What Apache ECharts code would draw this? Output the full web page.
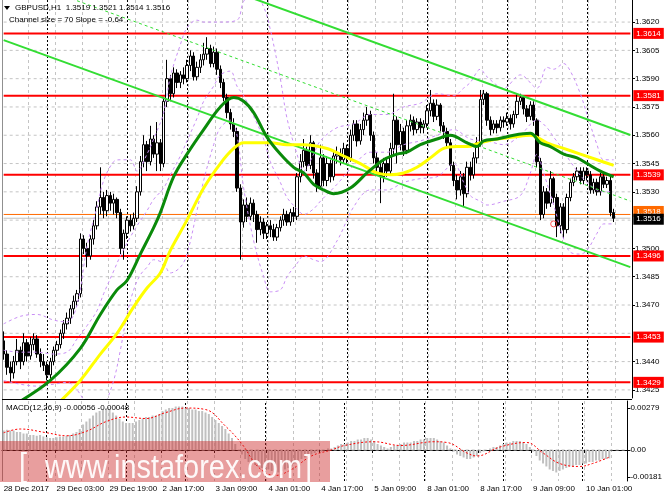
<!DOCTYPE html>
<html><head><meta charset="utf-8">
<script src="https://cdn.jsdelivr.net/npm/echarts@6/dist/echarts.min.js"></script>
<style>html,body{margin:0;padding:0;background:#fff}#c{width:665px;height:499px}</style>
</head><body><div id="c"></div>
<script>
// ---------- DATA ----------
const symbolName = 'GBPUSD,H1';
const channelText = 'Channel size = 70 Slope = -0.64';
const days = [['28 Dec',11,13],['29 Dec',0,24],['2 Jan',6,18],['3 Jan',0,24],['4 Jan',0,24],['5 Jan',0,24],['8 Jan',0,24],['9 Jan',0,24],['10 Jan',0,9]];
const emptySlots = 5;
const xTickLabels = ['28 Dec 2017','29 Dec 03:00','29 Dec 19:00','2 Jan 17:00','3 Jan 09:00','4 Jan 01:00','4 Jan 17:00','5 Jan 09:00','8 Jan 01:00','8 Jan 17:00','9 Jan 09:00','10 Jan 01:00'];
// prices in pips (1.3451 -> 3451)
const firstOpenPips = 3451;
const closesPips = [3444,3437,3434,3440,3446,3440,3450,3443,3449,3452,3444,3440,3438,3433,3440,3446,3449,3455,3460,3463,
3468,3472,3476,3505,3500,3496,3505,3512,3522,3527,3520,3528,3524,3526,3519,3500,3508,3515,3512,3516,
3530,3546,3555,3546,3558,3550,3556,3545,3578,3590,3582,3593,3588,3592,3590,3597,3602,3591,3596,3600,
3603,3606,3598,3604,3595,3588,3580,3572,3566,3562,3532,3514,3523,3517,3524,3518,3510,3514,3508,3512,
3510,3506,3511,3515,3518,3514,3519,3517,3538,3546,3552,3544,3556,3540,3533,3548,3536,3545,3538,3549,
3550,3547,3553,3548,3560,3566,3557,3563,3568,3571,3560,3548,3543,3538,3545,3541,3553,3568,3555,3562,
3552,3565,3568,3563,3567,3564,3566,3573,3577,3570,3576,3565,3562,3556,3544,3536,3531,3538,3529,3543,
3539,3548,3556,3579,3582,3568,3563,3566,3564,3568,3567,3569,3566,3571,3578,3580,3574,3570,3576,3568,
3546,3518,3530,3524,3537,3527,3512,3522,3510,3527,3535,3538,3541,3536,3541,3539,3531,3535,3530,3538,
3534,3536,3519,3516];
const highsPips = [3456,3446,3440,3443,3452,3448,3455,3452,3453,3455,3454,3447,3444,3440,3442,3448,3451,3457,3462,3466,
3470,3475,3478,3508,3507,3503,3507,3515,3525,3543,3530,3531,3530,3529,3527,3521,3510,3517,3518,3519,
3533,3549,3560,3557,3565,3560,3567,3558,3580,3600,3592,3596,3595,3594,3596,3600,3605,3604,3599,3603,
3609,3612,3608,3607,3606,3597,3590,3582,3574,3569,3564,3534,3526,3527,3527,3526,3520,3517,3516,3514,
3515,3513,3513,3517,3521,3520,3521,3522,3540,3550,3558,3554,3560,3557,3542,3555,3550,3549,3547,3552,
3554,3553,3556,3555,3563,3568,3568,3566,3572,3575,3573,3562,3551,3546,3548,3548,3556,3582,3570,3566,
3564,3568,3571,3570,3569,3569,3568,3576,3584,3579,3579,3577,3567,3564,3558,3546,3539,3541,3540,3546,
3546,3551,3559,3584,3584,3583,3570,3568,3568,3570,3570,3572,3571,3573,3582,3582,3581,3576,3578,3578,
3569,3548,3533,3532,3541,3538,3529,3524,3524,3529,3537,3540,3543,3543,3543,3543,3541,3537,3537,3540,
3540,3538,3538,3521];
const lowsPips = [3441,3433,3429,3431,3438,3436,3438,3440,3441,3446,3442,3437,3435,3430,3431,3438,3443,3447,3452,3457,
3460,3465,3469,3474,3497,3490,3494,3502,3510,3518,3516,3517,3520,3518,3516,3497,3494,3505,3509,3510,
3514,3528,3543,3541,3544,3548,3541,3541,3543,3575,3578,3580,3585,3585,3587,3588,3594,3589,3589,3593,
3597,3600,3596,3596,3592,3585,3578,3569,3563,3559,3530,3494,3511,3514,3515,3514,3503,3507,3505,3505,
3506,3504,3504,3509,3512,3512,3512,3514,3515,3535,3543,3541,3542,3537,3530,3531,3533,3533,3535,3536,
3545,3544,3545,3545,3546,3557,3554,3555,3560,3565,3557,3545,3540,3524,3535,3538,3539,3550,3545,3552,
3549,3550,3562,3560,3561,3561,3561,3564,3570,3567,3568,3562,3558,3553,3541,3533,3526,3528,3522,3527,
3536,3537,3545,3554,3576,3565,3560,3561,3561,3562,3564,3565,3563,3564,3569,3576,3571,3567,3568,3565,
3543,3515,3516,3521,3522,3524,3506,3508,3505,3508,3525,3533,3536,3534,3534,3536,3529,3529,3528,3528,
3532,3532,3517,3514];
// moving averages read as [bar, pips]
const maGreen = [[5,3419],[14,3430],[23,3447],[29,3465],[34,3478],[37,3483],[41,3497],[45,3511],[47,3519],[51,3538],[55,3550],[60,3563],[65,3575],[69,3580],[72,3578],[75,3572],[79,3559],[83,3550],[87,3543],[90,3540],[93,3534],[96,3531],[99,3529],[104,3532],[109,3540],[114,3547],[118,3550],[121,3551],[125,3555],[130,3558],[134,3560],[139,3556],[142,3554],[144,3557],[148,3558],[153,3560],[158,3561],[161,3556],[164,3554],[168,3550],[172,3548],[175,3545],[179,3541],[183,3538]];
const maYellow = [[17,3419],[23,3430],[29,3444],[34,3455],[39,3469],[43,3479],[47,3487],[50,3499],[55,3515],[60,3532],[65,3545],[69,3553],[72,3556],[75,3556],[80,3556],[85,3555],[90,3555],[97,3553],[102,3549],[107,3545],[112,3540],[116,3539],[120,3540],[124,3543],[128,3548],[132,3553],[136,3554],[139,3554],[143,3556],[148,3558],[153,3559],[158,3560],[163,3556],[168,3553],[173,3550],[178,3547],[183,3544]];
// Bollinger-style dashed bands read as [bar, pips]
const bandUpper = [[0,3460],[5,3464],[10,3465],[15,3462],[19,3461],[22,3470],[25,3501],[28,3522],[30,3536],[33,3546],[35,3547],[38,3547],[40,3541],[43,3550],[45,3558],[48,3572],[50,3591],[53,3608],[55,3617],[58,3621],[60,3620],[65,3620],[70,3621],[72,3631],[75,3636],[78,3628],[80,3616],[83,3590],[85,3569],[88,3550],[90,3541],[93,3550],[95,3557],[100,3564],[105,3566],[110,3571],[115,3571],[120,3575],[125,3577],[130,3582],[135,3581],[138,3585],[140,3588],[143,3595],[145,3591],[150,3585],[155,3592],[160,3585],[163,3596],[165,3595],[168,3598],[170,3594],[173,3582],[175,3571],[178,3555],[180,3547],[183,3547]];
const bandMiddle = [[0,3446],[5,3445],[10,3445],[15,3444],[19,3445],[22,3452],[25,3459],[28,3467],[30,3476],[33,3488],[35,3496],[38,3506],[40,3512],[43,3520],[45,3526],[48,3532],[50,3539],[53,3549],[55,3557],[58,3569],[60,3578],[63,3586],[65,3592],[68,3594],[70,3586],[72,3581],[75,3570],[78,3558],[80,3546],[83,3535],[85,3527],[88,3521],[90,3518],[93,3521],[95,3525],[100,3534],[105,3544],[110,3551],[115,3551],[120,3555],[125,3557],[130,3560],[135,3563],[140,3558],[145,3557],[150,3555],[155,3560],[160,3568],[163,3564],[165,3559],[168,3552],[170,3546],[175,3535],[180,3530],[183,3530]];
const bandLower = [[0,3430],[5,3428],[10,3427],[15,3428],[19,3429],[22,3425],[25,3417],[28,3412],[30,3416],[33,3430],[35,3446],[37,3465],[39,3478],[41,3486],[43,3490],[45,3494],[48,3492],[50,3487],[53,3490],[55,3497],[58,3520],[60,3536],[63,3555],[65,3564],[68,3568],[70,3560],[72,3532],[75,3504],[78,3485],[80,3477],[83,3478],[85,3485],[88,3492],[90,3496],[93,3494],[95,3493],[100,3504],[105,3522],[110,3531],[115,3531],[120,3535],[125,3537],[130,3538],[135,3545],[138,3535],[140,3528],[143,3525],[145,3523],[150,3525],[155,3528],[158,3540],[160,3550],[162,3540],[165,3523],[168,3505],[170,3498],[173,3497],[175,3499],[178,3508],[180,3513],[183,3513]];
// regression channel (lower line endpoints), size and slope from header
const channelLowerEnds = [[0,3610.4],[188,3490.1]];
const channelSizePips = 70;
// horizontal levels
const levels = [1.3614,1.3581,1.3539,1.3496,1.3453,1.3429];
const askPrice = 1.3518, bidPrice = 1.3516;
const priceLabels = [1.3620,1.3605,1.3590,1.3575,1.3560,1.3545,1.3530,1.3500,1.3485,1.3470,1.3440,1.3425];
const priceGrid = [1.3425,1.3440,1.3455,1.3470,1.3485,1.3500,1.3515,1.3530,1.3545,1.3560,1.3575,1.3590,1.3605,1.3620];
// MACD
const macdMain = [.0013,.00135,.0013,.0013,.0012,.0012,
.0011,.0011,.001,.001,.00095,.001,.0009,
.00085,.0008,.0008,.00085,.0009,.0009,.00095,
.001,.0011,.0012,.0014,
.0017,.0019,.0021,.0023,.0025,.0026,
.0027,.0028,.0027,
.0025,.0023,.0021,.0019,.0018,
.0018,.0018,.0019,.002,.0021,.0022,
.0022,.0023,.0023,.0024,
.0026,.0027,.0028,.0028,
.0029,.0029,.0029,.0028,
.0028,.0027,.0027,.0026,.0026,.0025,
.0024,.0022,.002,.0018,.0016,.0014,
.0011,.0008,.0004,0,
-.0003,-.0006,-.0008,-.0009,-.001,-.0011,-.0012,-.0012,
-.0013,-.0014,-.0015,-.0015,-.0014,-.0013,-.0012,-.0011,
-.0009,-.0007,-.0006,-.0005,-.0004,-.0003,
-.0002,-.0001,-.0001,0,.0001,.0001,
.0002,.0003,.0004,.0004,.0005,
.0006,.0006,.0007,.0007,.0008,.0008,.0007,
.0006,.0004,.0003,.0002,.0001,.0002,.0003,
.0003,.0004,.0005,.0005,.0005,.0006,.0006,.0007,.0007,.0008,
.0008,.0008,.0007,.0006,.0005,
.0003,.0001,-.0001,
-.0003,-.0004,-.0005,-.0006,-.0006,-.0005,-.0004,-.0002,
-.0001,0,.0001,.0002,.0002,.0003,
.0004,.0005,.0005,.0006,.0006,.0006,.0005,.0004,
.0002,-.0001,-.0004,
-.0007,-.0009,-.0011,-.0013,-.0014,-.0015,-.0014,
-.0013,-.0012,-.0011,-.0011,-.001,-.001,
-.0009,-.0009,-.0008,-.0008,-.0007,-.0007,-.0006,-.0006,-.00056];
const macdSignal = [[0,.00115],[5,.0014],[13,.00115],[19,.00095],[25,.00125],[31,.0019],[37,.0022],[43,.0021],[49,.0025],[55,.0028],[61,.0027],[67,.0016],[72,.0004],[77,-.00115],[82,-.0017],[87,-.0013],[93,-.0004],[99,0],[103,.0003],[112,.00055],[120,.0003],[130,.00055],[134,.0005],[140,-.0002],[143,-.0004],[150,.0002],[158,.0005],[163,-.0002],[168,-.0009],[174,-.0011],[178,-.0009],[183,-.00048]];
const macdLabels = [0.00279, 0, -0.00181];
const arrowMark = [[165, 3513]];

// ---------- BUILD ----------
const P = p => +(1 + p / 10000).toFixed(5);
const categories = [];
const dayStarts = [];
days.forEach(([d, h0, n], j) => {
  if (j > 0) dayStarts.push(categories.length);
  for (let k = 0; k < n; k++) categories.push(d + ' ' + String(h0 + k).padStart(2, '0') + ':00');
});
for (let k = 0; k < emptySlots; k++) categories.push('');
const lastIdx = categories.length - 1;
const candles = closesPips.map((c, i) => [P(i ? closesPips[i - 1] : firstOpenPips), P(c), P(lowsPips[i]), P(highsPips[i])]);
const pairs = arr => arr.map(([i, v]) => [i, P(v)]);
const chLower = pairs(channelLowerEnds);
const chUpper = channelLowerEnds.map(([i, v]) => [i, P(v + channelSizePips)]);
const chMid = channelLowerEnds.map(([i, v]) => [i, P(v + channelSizePips / 2)]);
const last = candles[candles.length - 1];
const FONT = '"Liberation Sans", Arial, sans-serif';
const FS = 8;

const gridDash = { color: '#c4c4c4', type: [3, 3], width: 1 };
const sepLines = dayStarts.map(i => ({ xAxis: i }));

const lineSeries = (name, data, color, width, z, dashed) => ({
  name, type: 'line', xAxisIndex: 0, yAxisIndex: 0, data, showSymbol: false, symbol: 'none', smooth: 0.35, z,
  lineStyle: { color, width, type: dashed ? [3, 3] : 'solid' }, silent: true, clip: true
});
const hLine = (v, color, width, type, z, labelBg, offY) => ({
  type: 'line', xAxisIndex: 0, yAxisIndex: 0, data: [[0, v], [lastIdx, v]], symbol: 'none', showSymbol: false,
  silent: true, z, clip: false, lineStyle: { color, width, type },
  endLabel: labelBg ? { show: true, formatter: v.toFixed(4), distance: 3, offset: [0, offY || 0], color: '#fff', backgroundColor: labelBg,
    padding: [1, 3, 0, 3], fontSize: FS, fontFamily: FONT, lineHeight: 10 } : { show: false }
});

const series = [];
priceGrid.forEach(v => series.push(hLine(v, gridDash.color, 1, [3, 3], 1)));
series.push({ name: 'sep', type: 'line', xAxisIndex: 0, yAxisIndex: 0, data: [], z: 1, silent: true,
  markLine: { silent: true, symbol: ['none', 'none'], z: 1, label: { show: false },
    lineStyle: { color: '#000', type: [2, 2], width: 1 }, data: sepLines } });
levels.forEach(v => series.push(hLine(v, '#ff0000', 2, 'solid', 2, '#ff0000')));
series.push(hLine(askPrice, '#ff6a00', 1, 'solid', 2, '#ff6a00', -3));
series.push(hLine(bidPrice, '#c0c0c0', 1, 'solid', 2.5, '#000000', 1));
series.push({ name: 'price', type: 'candlestick', xAxisIndex: 0, yAxisIndex: 0, data: candles, z: 3, barWidth: 3, silent: true,
  itemStyle: { color: '#ffffff', color0: '#000000', borderColor: '#000000', borderColor0: '#000000', borderWidth: 1 } });
series.push(lineSeries('bandUpper', pairs(bandUpper), '#c98ff5', 1, 4, true));
series.push(lineSeries('bandMiddle', pairs(bandMiddle), '#c98ff5', 1, 4, true));
series.push(lineSeries('bandLower', pairs(bandLower), '#c98ff5', 1, 4, true));
series.push(Object.assign(lineSeries('chMid', chMid, '#33dd33', 1, 5, true), { smooth: false }));
series.push(Object.assign(lineSeries('chUpper', chUpper, '#33dd33', 2, 5, false), { smooth: false }));
series.push(Object.assign(lineSeries('chLower', chLower, '#33dd33', 2, 5, false), { smooth: false }));
series.push(lineSeries('maYellow', pairs(maYellow), '#ffff00', 3, 6, false));
series.push(lineSeries('maGreen', pairs(maGreen), '#0a8a0a', 3, 7, false));
series.push({ name: 'mark', type: 'scatter', xAxisIndex: 0, yAxisIndex: 0, data: pairs(arrowMark), symbol: 'circle', symbolSize: 6, z: 8, silent: true,
  itemStyle: { color: 'rgba(255,255,255,0)', borderColor: '#ff3030', borderWidth: 1 } });
series.push(Object.assign(hLine(0, gridDash.color, 1, [3, 3], 1), { xAxisIndex: 1, yAxisIndex: 1 }));
series.push({ name: 'macd', type: 'bar', xAxisIndex: 1, yAxisIndex: 1, data: macdMain, barWidth: 2, z: 3, silent: true,
  itemStyle: { color: '#c0c0c0' },
  markLine: { silent: true, symbol: ['none', 'none'], z: 1, label: { show: false },
    lineStyle: { color: '#000', type: [2, 2], width: 1 }, data: sepLines } });
series.push({ name: 'signal', type: 'line', xAxisIndex: 1, yAxisIndex: 1, data: macdSignal, showSymbol: false, symbol: 'none', smooth: 0.4, z: 4, silent: true,
  lineStyle: { color: '#ff0000', width: 1, type: [2, 2] } });

const headerText = symbolName + '  ' + [last[0], last[3], last[2], last[1]].map(v => v.toFixed(4)).join(' ');
const macdText = 'MACD(12,26,9) ' + macdMain[macdMain.length - 1].toFixed(5) + ' ' + macdSignal[macdSignal.length - 1][1].toFixed(5);
const wmFill = 'rgba(255,255,255,0.93)';

const option = {
  animation: false,
  backgroundColor: '#fff',
  textStyle: { fontFamily: FONT },
  grid: [
    { left: 2, top: 0, width: 630, height: 398 },
    { left: 2, top: 401, width: 630, height: 80 }
  ],
  xAxis: [
    { type: 'category', gridIndex: 0, data: categories, boundaryGap: true,
      axisLine: { show: false }, axisTick: { show: false }, axisLabel: { show: false },
      splitLine: { show: true, interval: (i) => i % 8 === 0, lineStyle: gridDash } },
    { type: 'category', gridIndex: 1, data: categories, boundaryGap: true,
      axisLine: { show: true, lineStyle: { color: '#000', width: 1 } },
      axisTick: { show: true, interval: (i) => i % 16 === 0, length: 3, lineStyle: { color: '#000' } },
      axisLabel: { show: true, interval: (i) => i % 16 === 0, hideOverlap: false, align: 'left', margin: 4,
        color: '#000', fontSize: FS, fontFamily: FONT,
        formatter: (v, i) => xTickLabels[Math.round(i / 16)] || '' },
      splitLine: { show: true, interval: (i) => i % 8 === 0, lineStyle: gridDash } }
  ],
  yAxis: [
    { type: 'value', gridIndex: 0, position: 'right', min: 1.34207, max: 1.36317,
      axisLine: { show: true, lineStyle: { color: '#000' } },
      axisTick: { show: true, customValues: priceLabels, length: 3, lineStyle: { color: '#000' } },
      axisLabel: { show: true, customValues: priceLabels, margin: 3, color: '#000', fontSize: FS, fontFamily: FONT, formatter: v => v.toFixed(4) },
      splitLine: { show: false } },
    { type: 'value', gridIndex: 1, position: 'right', min: -0.00207, max: 0.00327,
      axisLine: { show: true, lineStyle: { color: '#000' } },
      axisTick: { show: true, customValues: macdLabels, length: 3, lineStyle: { color: '#000' } },
      axisLabel: { show: true, customValues: macdLabels, margin: 3, color: '#000', fontSize: FS, fontFamily: FONT,
        formatter: v => (Math.abs(v) < 1e-9 ? '0.00' : v.toFixed(5)) },
      splitLine: { show: false } }
  ],
  series,
  graphic: [
    { type: 'line', shape: { x1: 2.5, y1: 0, x2: 2.5, y2: 481 }, style: { stroke: '#909090', lineWidth: 1 }, z: 10 },
    { type: 'line', shape: { x1: 2, y1: 399.5, x2: 632, y2: 399.5 }, style: { stroke: '#000', lineWidth: 1 }, z: 10 },
    { type: 'polygon', shape: { points: [[4, 6], [10, 6], [7, 10]] }, style: { fill: '#000' }, z: 10 },
    { type: 'text', x: 15, y: 8, style: { text: headerText, font: FS + 'px ' + FONT, fill: '#000', verticalAlign: 'middle' }, z: 10 },
    { type: 'text', x: 9, y: 20, style: { text: channelText, font: FS + 'px ' + FONT, fill: '#000', verticalAlign: 'middle' }, z: 10 },
    { type: 'text', x: 6, y: 408, style: { text: macdText, font: FS + 'px ' + FONT, fill: '#000', verticalAlign: 'middle' }, z: 10 },
    { type: 'rect', shape: { x: 0, y: 441, width: 330, height: 41 }, style: { fill: 'rgba(205,40,40,0.45)' }, z: 20 },
    { type: 'text', x: 19, y: 484, scaleX: 0.85, style: { text: '[', font: '34px "Liberation Sans", Arial', fill: wmFill, verticalAlign: 'bottom' }, z: 21 },
    { type: 'text', x: 45, y: 486, scaleX: 0.85, style: { text: 'www.instaforex.com', font: '34px "Liberation Sans", Arial', fill: wmFill, verticalAlign: 'bottom' }, z: 21 },
    { type: 'text', x: 304, y: 486, scaleX: 0.85, style: { text: ']', font: '34px "Liberation Sans", Arial', fill: wmFill, verticalAlign: 'bottom' }, z: 21 }
  ]
};
const chart = echarts.init(document.getElementById('c'));
chart.setOption(option);
</script>
</body></html>
